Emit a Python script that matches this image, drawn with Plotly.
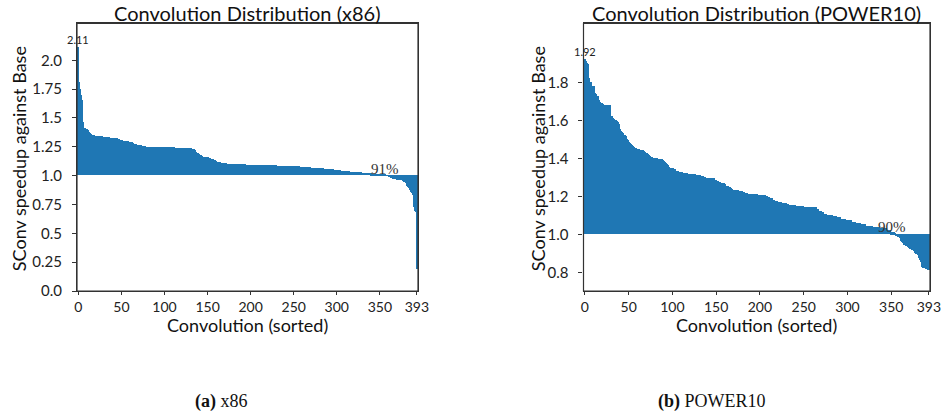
import plotly.graph_objects as go

# ---------------- data ----------------
x86_speedup = [
    2.11, 1.81, 1.75, 1.70, 1.65, 1.46, 1.42, 1.41, 1.41, 1.40,
    1.40, 1.39, 1.38, 1.37, 1.365, 1.36, 1.35, 1.35, 1.35, 1.345,
    1.345, 1.345, 1.345, 1.34, 1.34, 1.34, 1.34, 1.34, 1.335, 1.335,
    1.33, 1.33, 1.33, 1.33, 1.33, 1.33, 1.33, 1.325, 1.325, 1.325,
    1.325, 1.325, 1.325, 1.32, 1.32, 1.32, 1.315, 1.315, 1.31, 1.31,
    1.31, 1.31, 1.30, 1.30, 1.30, 1.30, 1.295, 1.295, 1.295, 1.29,
    1.29, 1.287, 1.285, 1.28, 1.275, 1.275, 1.27, 1.27, 1.265, 1.26,
    1.26, 1.26, 1.26, 1.26, 1.258, 1.258, 1.255, 1.252, 1.252, 1.25,
    1.25, 1.25, 1.25, 1.25, 1.25, 1.25, 1.25, 1.25, 1.25, 1.25,
    1.25, 1.25, 1.25, 1.25, 1.25, 1.25, 1.248, 1.248, 1.245, 1.245,
    1.245, 1.245, 1.245, 1.244, 1.244, 1.244, 1.243, 1.243, 1.242, 1.242,
    1.242, 1.242, 1.241, 1.241, 1.241, 1.24, 1.24, 1.24, 1.24, 1.24,
    1.24, 1.239, 1.239, 1.238, 1.238, 1.237, 1.237, 1.236, 1.236, 1.235,
    1.235, 1.233, 1.23, 1.228, 1.225, 1.22, 1.21, 1.20, 1.195, 1.19,
    1.185, 1.18, 1.175, 1.17, 1.165, 1.16, 1.158, 1.157, 1.157, 1.155,
    1.155, 1.152, 1.148, 1.147, 1.145, 1.143, 1.14, 1.135, 1.13, 1.13,
    1.125, 1.12, 1.118, 1.117, 1.115, 1.113, 1.11, 1.11, 1.11, 1.11,
    1.11, 1.11, 1.10, 1.10, 1.10, 1.10, 1.10, 1.10, 1.10, 1.095,
    1.095, 1.095, 1.095, 1.095, 1.095, 1.095, 1.095, 1.095, 1.095, 1.095,
    1.095, 1.095, 1.095, 1.095, 1.095, 1.088, 1.088, 1.088, 1.088, 1.088,
    1.088, 1.088, 1.088, 1.088, 1.088, 1.087, 1.087, 1.087, 1.087, 1.087,
    1.087, 1.087, 1.087, 1.087, 1.087, 1.086, 1.086, 1.086, 1.086, 1.086,
    1.086, 1.086, 1.086, 1.086, 1.086, 1.086, 1.086, 1.086, 1.086, 1.086,
    1.085, 1.085, 1.085, 1.084, 1.084, 1.084, 1.078, 1.078, 1.078, 1.078,
    1.078, 1.078, 1.078, 1.078, 1.078, 1.078, 1.078, 1.078, 1.078, 1.078,
    1.078, 1.078, 1.078, 1.078, 1.078, 1.077, 1.077, 1.076, 1.076, 1.072,
    1.072, 1.072, 1.071, 1.071, 1.07, 1.07, 1.07, 1.07, 1.069, 1.069,
    1.068, 1.068, 1.068, 1.067, 1.067, 1.066, 1.066, 1.066, 1.065, 1.065,
    1.065, 1.065, 1.06, 1.06, 1.06, 1.059, 1.059, 1.058, 1.058, 1.057,
    1.057, 1.056, 1.056, 1.055, 1.054, 1.053, 1.052, 1.048, 1.047, 1.046,
    1.046, 1.045, 1.045, 1.044, 1.043, 1.042, 1.042, 1.041, 1.04, 1.04,
    1.039, 1.039, 1.038, 1.035, 1.034, 1.033, 1.033, 1.032, 1.031, 1.031,
    1.03, 1.03, 1.029, 1.029, 1.028, 1.028, 1.027, 1.027, 1.025, 1.024,
    1.023, 1.023, 1.022, 1.022, 1.021, 1.02, 1.02, 1.019, 1.019, 1.018,
    1.017, 1.016, 1.016, 1.015, 1.013, 1.012, 1.012, 1.011, 1.01, 1.01,
    1.009, 1.008, 1.008, 1.007, 1.006, 1.005, 1.004, 1.003, 1.002, 0.998,
    0.995, 0.99, 0.985, 0.98, 0.975, 0.972, 0.97, 0.968, 0.966, 0.965,
    0.963, 0.962, 0.96, 0.959, 0.958, 0.957, 0.956, 0.955, 0.945, 0.94,
    0.93, 0.92, 0.91, 0.90, 0.89, 0.87, 0.86, 0.845, 0.83, 0.77,
    0.73, 0.69, 0.68, 0.19,
]

power10_speedup = [
    1.92, 1.913, 1.90, 1.895, 1.82, 1.80, 1.80, 1.80, 1.78, 1.78,
    1.78, 1.745, 1.74, 1.73, 1.73, 1.71, 1.705, 1.695, 1.69, 1.69,
    1.685, 1.683, 1.682, 1.68, 1.68, 1.68, 1.679, 1.678, 1.678, 1.625,
    1.62, 1.61, 1.61, 1.608, 1.60, 1.60, 1.598, 1.59, 1.58, 1.565,
    1.555, 1.545, 1.54, 1.535, 1.525, 1.52, 1.515, 1.505, 1.50, 1.495,
    1.488, 1.48, 1.475, 1.47, 1.465, 1.46, 1.458, 1.455, 1.453, 1.45,
    1.448, 1.447, 1.446, 1.445, 1.444, 1.443, 1.442, 1.44, 1.435, 1.43,
    1.428, 1.425, 1.42, 1.415, 1.41, 1.408, 1.406, 1.404, 1.40, 1.40,
    1.40, 1.399, 1.399, 1.398, 1.398, 1.397, 1.397, 1.396, 1.395, 1.39,
    1.385, 1.38, 1.375, 1.37, 1.362, 1.355, 1.353, 1.351, 1.35, 1.349,
    1.347, 1.346, 1.345, 1.337, 1.335, 1.333, 1.331, 1.33, 1.329, 1.328,
    1.327, 1.326, 1.325, 1.323, 1.322, 1.32, 1.32, 1.319, 1.319, 1.318,
    1.318, 1.317, 1.317, 1.316, 1.316, 1.316, 1.312, 1.312, 1.312, 1.311,
    1.311, 1.311, 1.306, 1.306, 1.305, 1.30, 1.30, 1.30, 1.295, 1.295,
    1.295, 1.295, 1.295, 1.295, 1.295, 1.294, 1.294, 1.294, 1.288, 1.288,
    1.28, 1.28, 1.28, 1.273, 1.273, 1.268, 1.268, 1.268, 1.268, 1.262,
    1.262, 1.254, 1.254, 1.254, 1.247, 1.247, 1.241, 1.241, 1.236, 1.232,
    1.232, 1.232, 1.232, 1.232, 1.232, 1.227, 1.227, 1.227, 1.227, 1.227,
    1.223, 1.223, 1.218, 1.218, 1.218, 1.218, 1.211, 1.211, 1.211, 1.211,
    1.211, 1.211, 1.211, 1.211, 1.211, 1.211, 1.211, 1.206, 1.206, 1.206,
    1.206, 1.206, 1.206, 1.206, 1.206, 1.206, 1.20, 1.20, 1.20, 1.194,
    1.194, 1.189, 1.189, 1.189, 1.183, 1.183, 1.183, 1.176, 1.176, 1.176,
    1.171, 1.171, 1.171, 1.171, 1.171, 1.166, 1.166, 1.166, 1.166, 1.166,
    1.159, 1.159, 1.159, 1.154, 1.154, 1.154, 1.154, 1.154, 1.154, 1.154,
    1.148, 1.148, 1.148, 1.148, 1.148, 1.148, 1.148, 1.148, 1.148, 1.148,
    1.145, 1.145, 1.145, 1.145, 1.145, 1.145, 1.145, 1.145, 1.141, 1.141,
    1.141, 1.141, 1.141, 1.141, 1.131, 1.131, 1.131, 1.122, 1.122, 1.122,
    1.115, 1.115, 1.115, 1.106, 1.106, 1.106, 1.101, 1.101, 1.101, 1.101,
    1.101, 1.101, 1.101, 1.096, 1.096, 1.096, 1.096, 1.089, 1.089, 1.089,
    1.089, 1.089, 1.082, 1.082, 1.082, 1.082, 1.082, 1.082, 1.075, 1.075,
    1.075, 1.075, 1.075, 1.075, 1.066, 1.066, 1.066, 1.066, 1.066, 1.058,
    1.058, 1.058, 1.058, 1.058, 1.058, 1.052, 1.052, 1.052, 1.052, 1.052,
    1.052, 1.045, 1.045, 1.045, 1.045, 1.045, 1.045, 1.045, 1.045, 1.04,
    1.04, 1.04, 1.04, 1.04, 1.04, 1.04, 1.031, 1.031, 1.031, 1.031,
    1.031, 1.031, 1.031, 1.031, 1.023, 1.023, 1.023, 1.023, 1.023, 1.01,
    1.01, 1.01, 1.01, 1.01, 1.005, 0.995, 0.99, 0.987, 0.985, 0.98,
    0.97, 0.965, 0.96, 0.953, 0.945, 0.943, 0.94, 0.938, 0.936, 0.934,
    0.927, 0.924, 0.921, 0.918, 0.916, 0.914, 0.905, 0.902, 0.898, 0.894,
    0.891, 0.875, 0.866, 0.856, 0.83, 0.828, 0.825, 0.822, 0.82, 0.816,
    0.815, 0.814, 0.813, 0.81,
]

baseline = 1.0
x_tick_vals = [0, 50, 100, 150, 200, 250, 300, 350, 393]
x86_y_ticks = [0.0, 0.25, 0.5, 0.75, 1.0, 1.25, 1.5, 1.75, 2.0]
x86_y_labels = ["0.0", "0.25", "0.5", "0.75", "1.0", "1.25", "1.5", "1.75", "2.0"]
p10_y_ticks = [0.8, 1.0, 1.2, 1.4, 1.6, 1.8]
p10_y_labels = ["0.8", "1.0", "1.2", "1.4", "1.6", "1.8"]
x86_pct_label = "91%"
p10_pct_label = "90%"

# ---------------- figure ----------------
W, H = 944, 415
BAR = "#1f77b4"
SANS = "Lato, 'Open Sans', sans-serif"
SERIF = "'Liberation Serif', 'DejaVu Serif', serif"
FRAME = "#333333"

idx_x86 = list(range(len(x86_speedup)))
idx_p10 = list(range(len(power10_speedup)))

fig = go.Figure()
fig.add_trace(go.Bar(x=idx_x86, y=[v - baseline for v in x86_speedup], base=baseline,
                     marker=dict(color=BAR, line=dict(width=0)),
                     xaxis="x", yaxis="y", showlegend=False))
fig.add_trace(go.Bar(x=idx_p10, y=[v - baseline for v in power10_speedup], base=baseline,
                     marker=dict(color=BAR, line=dict(width=0)),
                     xaxis="x2", yaxis="y2", showlegend=False))

def px(x):
    return x / W

def py(y):
    return 1 - y / H

L1, R1 = 77, 418
L2, R2 = 583.5, 930
TOP, BOT = 23.3, 291
XR = [-1.6, 394.3]

axis_common = dict(showline=True, linecolor=FRAME, linewidth=1.2, mirror=True,
                   ticks="outside", tickcolor=FRAME, tickwidth=1,
                   showgrid=False, zeroline=False, automargin=False)
xaxis_extra = dict(ticklen=3, tickfont=dict(family=SANS, size=14, color="#222"))
yaxis_extra = dict(ticklen=4, ticklabelstandoff=7, tickfont=dict(family=SANS, size=15, color="#222"))

fig.update_layout(
    width=W, height=H,
    margin=dict(l=0, r=0, t=0, b=0),
    paper_bgcolor="white", plot_bgcolor="white",
    bargap=0,
    xaxis=dict(domain=[px(L1), px(R1)], range=XR, tickmode="array",
               tickvals=x_tick_vals, anchor="y", **axis_common, **xaxis_extra),
    yaxis=dict(domain=[py(BOT), py(TOP)], range=[0, 2.321], tickmode="array",
               tickvals=x86_y_ticks, ticktext=x86_y_labels, anchor="x",
               **axis_common, **yaxis_extra),
    xaxis2=dict(domain=[px(L2), px(R2)], range=XR, tickmode="array",
                tickvals=x_tick_vals, anchor="y2", **axis_common, **xaxis_extra),
    yaxis2=dict(domain=[py(BOT), py(TOP)], range=[0.703, 2.112], tickmode="array",
                tickvals=p10_y_ticks, ticktext=p10_y_labels, anchor="x2",
                **axis_common, **yaxis_extra),
)

# explicit frames around both plot areas
for xr, yr in (("x domain", "y domain"), ("x2 domain", "y2 domain")):
    fig.add_shape(type="rect", xref=xr, yref=yr, x0=0, x1=1, y0=0, y1=1,
                  line=dict(color=FRAME, width=1.2), fillcolor="rgba(0,0,0,0)", layer="above")

ann = []

def paper_text(text, xpix, ypix, size, family=SANS, angle=0, color="#111"):
    ann.append(dict(text=text, x=px(xpix), y=py(ypix), xref="paper", yref="paper",
                    xanchor="center", yanchor="middle", showarrow=False, textangle=angle,
                    font=dict(family=family, size=size, color=color)))

# titles
paper_text("Convolution Distribution (x86)", (L1 + R1) / 2, 12.5, 20)
paper_text("Convolution Distribution (POWER10)", (L2 + R2) / 2, 12.5, 20)
# axis titles
paper_text("SConv speedup against Base", 19, (TOP + BOT) / 2 + 2, 18, angle=-90)
paper_text("SConv speedup against Base", 538, (TOP + BOT) / 2 + 2, 18, angle=-90)
paper_text("Convolution (sorted)", (L1 + R1) / 2, 325, 18)
paper_text("Convolution (sorted)", (L2 + R2) / 2, 325, 18)
# captions
paper_text("<b>(a)</b> x86", 221, 401, 18, family=SERIF)
paper_text("<b>(b)</b> POWER10", 712, 401, 18, family=SERIF)

# value labels
ann.append(dict(text=f"{max(x86_speedup):.2f}", x=0, y=max(x86_speedup), xref="x", yref="y",
                xanchor="center", yanchor="bottom", showarrow=False,
                font=dict(family=SANS, size=11, color="#222")))
ann.append(dict(text=f"{max(power10_speedup):.2f}", x=0, y=max(power10_speedup), xref="x2", yref="y2",
                xanchor="center", yanchor="bottom", showarrow=False,
                font=dict(family=SANS, size=11, color="#222")))
ann.append(dict(text=x86_pct_label, x=355.6, y=1.06, xref="x", yref="y",
                xanchor="center", yanchor="middle", showarrow=False,
                font=dict(family=SERIF, size=15, color="#333")))
ann.append(dict(text=p10_pct_label, x=351, y=1.04, xref="x2", yref="y2",
                xanchor="center", yanchor="middle", showarrow=False,
                font=dict(family=SERIF, size=15, color="#333")))

fig.update_layout(annotations=ann)
fig.write_html("out.html", config={"displayModeBar": False},
               post_script="document.body.style.margin='0px';document.body.style.overflow='hidden';")
